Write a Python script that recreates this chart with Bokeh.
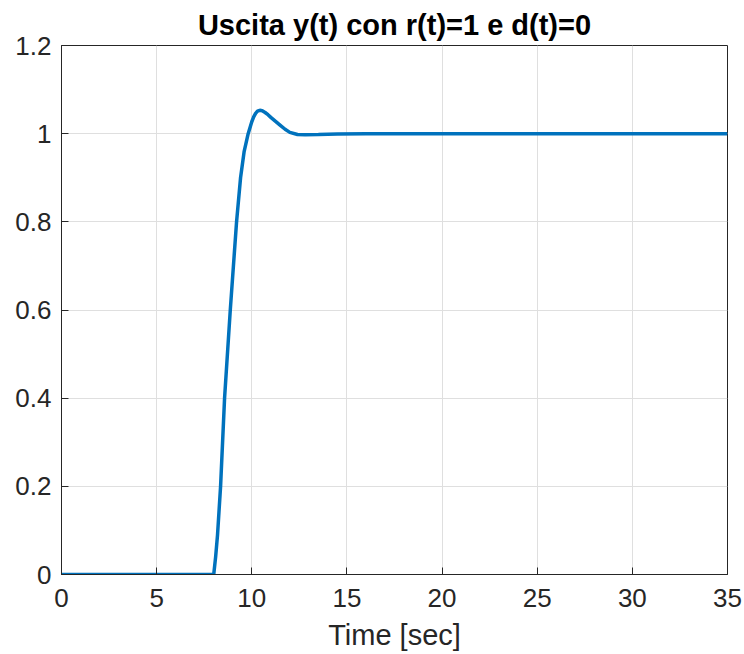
from bokeh.plotting import figure
from bokeh.models import FixedTicker, Range1d
from bokeh.embed import file_html
from bokeh.resources import INLINE

# data
time_s = [0, 8.0, 8.1, 8.2, 8.36, 8.57, 8.87, 9.2, 9.41, 9.6, 9.81, 10.0, 10.1, 10.2, 10.3,
          10.42, 10.55, 10.7, 10.85, 11.0, 11.25, 11.5, 11.75, 12.0, 12.4, 12.8, 13.5, 14.5, 16, 20, 35]
y_out = [0, 0, 0.04, 0.09, 0.2, 0.4, 0.6, 0.8, 0.9, 0.96, 1.0, 1.027, 1.038, 1.046, 1.051,
         1.053, 1.052, 1.048, 1.043, 1.037, 1.028, 1.019, 1.01, 1.003, 0.998, 0.9975, 0.998, 0.999, 1.0, 1.0, 1.0]

x_ticks = [0, 5, 10, 15, 20, 25, 30, 35]
y_ticks = [0, 0.2, 0.4, 0.6, 0.8, 1.0, 1.2]
y_tick_labels = ["0", "0.2", "0.4", "0.6", "0.8", "1", "1.2"]

FONT = "Liberation Sans"
TXT = "#262626"

p = figure(width=744, height=654, output_backend="svg", toolbar_location=None,
           x_range=Range1d(0, 35), y_range=Range1d(0, 1.2),
           title="Uscita y(t) con r(t)=1 e d(t)=0",
           min_border_left=61, min_border_right=17, min_border_top=45, min_border_bottom=80)

p.title.align = "center"
p.title.text_font = FONT
p.title.text_font_size = "29px"
p.title.text_font_style = "bold"
p.title.text_color = "#000000"
p.title.offset = 0

p.line(time_s, y_out, line_color="#0072BD", line_width=3.5)

p.xaxis.ticker = FixedTicker(ticks=x_ticks)
p.yaxis.ticker = FixedTicker(ticks=y_ticks)
p.yaxis.major_label_overrides = {t: l for t, l in zip(y_ticks, y_tick_labels)}
p.xaxis.axis_label = "Time [sec]"

for ax in p.xaxis + p.yaxis:
    ax.major_tick_in = 7
    ax.major_tick_out = 0
    ax.minor_tick_in = 0
    ax.minor_tick_out = 0
    ax.axis_line_color = TXT
    ax.major_tick_line_color = TXT
    ax.major_label_text_font = FONT
    ax.major_label_text_font_size = "26px"
    ax.major_label_text_color = TXT
    ax.axis_label_text_font = FONT
    ax.axis_label_text_font_size = "29px"
    ax.axis_label_text_font_style = "normal"
    ax.axis_label_text_color = TXT
p.xaxis.major_label_standoff = 14
p.yaxis.major_label_standoff = 10
p.xaxis.axis_label_standoff = 9

p.xgrid.ticker = FixedTicker(ticks=x_ticks)
p.ygrid.ticker = FixedTicker(ticks=y_ticks)
p.grid.grid_line_color = "#dfdfdf"
p.grid.grid_line_width = 1
p.outline_line_color = TXT

open("out.html", "w").write(file_html(p, INLINE))
